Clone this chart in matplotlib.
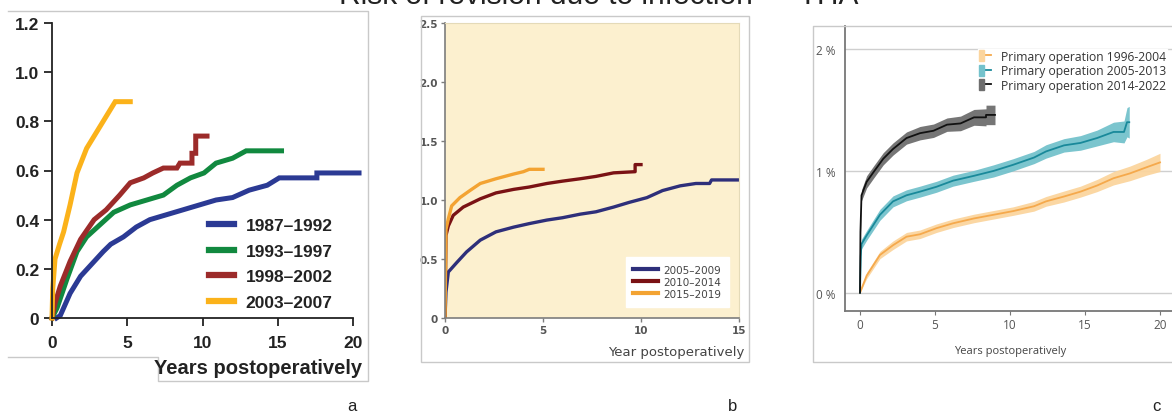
import matplotlib.pyplot as plt
from matplotlib.lines import Line2D
from matplotlib.patches import Patch, Rectangle
from matplotlib.legend_handler import HandlerTuple

W, H = 1172, 414

# ---- panel a: 1987-2007 cohorts ----
a_labels = ["1987\u20131992", "1993\u20131997", "1998\u20132002", "2003\u20132007"]
a_t_8792 = [0.3, 0.55, 1.2, 1.9, 2.8, 3.4, 3.9, 4.75, 5.6, 6.5, 7.6, 8.7, 9.8, 10.9, 12.0, 13.1, 14.3, 15.1, 17.6, 17.6, 20.4]
a_v_8792 = [0, 0.01, 0.10, 0.17, 0.23, 0.27, 0.30, 0.33, 0.37, 0.40, 0.42, 0.44, 0.46, 0.48, 0.49, 0.52, 0.54, 0.57, 0.57, 0.59, 0.59]
a_t_9397 = [0, 0.33, 1.0, 1.66, 2.3, 3.2, 4.1, 5.2, 6.3, 7.4, 8.3, 9.2, 10.1, 10.9, 12.0, 12.9, 15.25]
a_v_9397 = [0, 0.04, 0.16, 0.27, 0.33, 0.38, 0.43, 0.46, 0.48, 0.50, 0.54, 0.57, 0.59, 0.63, 0.65, 0.68, 0.68]
a_t_9802 = [0, 0.2, 0.55, 1.2, 1.9, 2.8, 3.6, 4.5, 5.2, 6.1, 6.7, 7.4, 8.3, 8.5, 9.3, 9.3, 9.55, 9.55, 10.3]
a_v_9802 = [0, 0.06, 0.13, 0.23, 0.32, 0.40, 0.44, 0.50, 0.55, 0.57, 0.59, 0.61, 0.61, 0.63, 0.63, 0.67, 0.67, 0.74, 0.74]
a_t_0307 = [0, 0.05, 0.2, 0.5, 0.77, 1.2, 1.66, 2.3, 3.0, 3.4, 3.9, 4.2, 5.2]
a_v_0307 = [0, 0.12, 0.24, 0.30, 0.35, 0.46, 0.59, 0.69, 0.76, 0.80, 0.85, 0.88, 0.88]
a_colors = ["#2b3a94", "#11893f", "#9c2b2a", "#fbb21a"]

# ---- panel b: 2005-2019 cohorts ----
b_labels = ["2005\u20132009", "2010\u20132014", "2015\u20132019"]
b_t_0509 = [0, 0.05, 0.17, 0.6, 1.1, 1.8, 2.6, 3.5, 4.3, 5.2, 6.0, 6.9, 7.7, 8.6, 9.4, 10.3, 11.1, 12.0, 12.8, 13.5, 13.6, 15.0]
b_v_0509 = [0, 0.22, 0.39, 0.47, 0.56, 0.66, 0.73, 0.77, 0.80, 0.83, 0.85, 0.88, 0.90, 0.94, 0.98, 1.02, 1.08, 1.12, 1.14, 1.14, 1.17, 1.17]
b_t_1014 = [0, 0.05, 0.17, 0.42, 0.93, 1.8, 2.6, 3.5, 4.3, 5.2, 6.0, 6.9, 7.7, 8.6, 9.7, 9.7, 10.0]
b_v_1014 = [0, 0.70, 0.78, 0.87, 0.94, 1.01, 1.06, 1.09, 1.11, 1.14, 1.16, 1.18, 1.20, 1.23, 1.24, 1.30, 1.30]
b_t_1519 = [0, 0.05, 0.17, 0.34, 0.76, 1.27, 1.8, 2.6, 3.5, 4.0, 4.3, 5.0]
b_v_1519 = [0, 0.75, 0.84, 0.95, 1.02, 1.08, 1.14, 1.18, 1.22, 1.24, 1.26, 1.26]
b_colors = ["#2e2f7a", "#7a1214", "#f3a332"]

# ---- panel c: 1996-2022 cohorts with confidence bands ----
c_labels = ["Primary operation 1996-2004", "Primary operation 2005-2013", "Primary operation 2014-2022"]
c_t_9604 = [0, 0.44, 1.33, 2.2, 3.1, 4.0, 5.1, 6.2, 7.6, 8.9, 10.2, 11.6, 12.4, 13.6, 14.7, 15.8, 16.9, 18.0, 19.1, 20.0]
c_v_9604 = [0, 0.14, 0.31, 0.39, 0.46, 0.48, 0.53, 0.57, 0.61, 0.64, 0.67, 0.71, 0.75, 0.79, 0.83, 0.88, 0.94, 0.98, 1.03, 1.07]
c_e_9604 = [0, 0.025, 0.03, 0.035, 0.035, 0.035, 0.035, 0.035, 0.035, 0.035, 0.035, 0.04, 0.04, 0.045, 0.045, 0.05, 0.055, 0.06, 0.065, 0.075]
c_t_0513 = [0, 0.05, 0.1, 0.44, 1.33, 2.2, 3.1, 4.0, 5.1, 6.2, 7.6, 8.9, 10.2, 11.6, 12.4, 13.6, 14.7, 15.8, 16.9, 17.6, 17.8, 17.95]
c_v_0513 = [0, 0.3, 0.40, 0.47, 0.64, 0.75, 0.80, 0.83, 0.87, 0.92, 0.96, 1.00, 1.05, 1.11, 1.16, 1.21, 1.23, 1.27, 1.32, 1.32, 1.40, 1.40]
c_e_0513 = [0, 0.04, 0.04, 0.04, 0.045, 0.045, 0.045, 0.045, 0.045, 0.045, 0.045, 0.05, 0.05, 0.05, 0.055, 0.055, 0.06, 0.065, 0.08, 0.09, 0.12, 0.13]
c_t_1422 = [0, 0.03, 0.1, 0.44, 0.9, 1.55, 2.2, 3.1, 4.0, 4.9, 5.8, 6.7, 7.6, 8.4, 8.4, 9.0]
c_v_1422 = [0, 0.5, 0.80, 0.91, 0.99, 1.10, 1.18, 1.27, 1.31, 1.33, 1.38, 1.39, 1.44, 1.44, 1.46, 1.46]
c_e_1422 = [0, 0.04, 0.045, 0.05, 0.05, 0.05, 0.05, 0.05, 0.055, 0.055, 0.055, 0.06, 0.065, 0.07, 0.08, 0.08]
c_line_colors = ["#f5a94c", "#19899a", "#111111"]
c_band_colors = ["#fbd59e", "#74c2cc", "#6e6e6e"]


def box(left, top, right, bottom):
    return [left / W, 1 - bottom / H, (right - left) / W, (bottom - top) / H]


def fline(fig, xs, ys, color="#c9c9c9", lw=1.0):
    fig.add_artist(Line2D([x / W for x in xs], [1 - y / H for y in ys],
                          color=color, lw=lw, transform=fig.transFigure))


fig = plt.figure(figsize=(W / 100, H / 100), dpi=100)

# title sits partly above the top edge, as in the source image
fig.text(599 / W, 1 - 4 / H, "Risk of revision due to infection \u2014 THA",
         ha="center", va="baseline", fontsize=21.5, color="#222222", family="Liberation Sans")

# ================= panel a =================
fline(fig, [8, 368, 368, 158, 158, 8], [12, 12, 382, 382, 358, 358])
ax = fig.add_axes(box(52, 24, 353, 319))
series_a = [(a_t_8792, a_v_8792), (a_t_9397, a_v_9397), (a_t_9802, a_v_9802), (a_t_0307, a_v_0307)]
for (t, v), c, lab in zip(series_a, a_colors, a_labels):
    ax.plot(t, v, color=c, lw=3.6, label=lab, clip_on=False, solid_joinstyle="miter")
ax.set_xlim(0, 20)
ax.set_ylim(0, 1.2)
ax.set_xticks([0, 5, 10, 15, 20])
ax.set_yticks([0, 0.2, 0.4, 0.6, 0.8, 1.0, 1.2])
ax.set_yticklabels(["0", "0.2", "0.4", "0.6", "0.8", "1.0", "1.2"])
for s in ["top", "right"]:
    ax.spines[s].set_visible(False)
for s in ["left", "bottom"]:
    ax.spines[s].set_linewidth(1.3)
    ax.spines[s].set_color("#222222")
ax.tick_params(direction="out", length=6, width=1.3, color="#222222", labelsize=12.5, pad=3)
ax.tick_params(axis="x", pad=6)
for lb in ax.get_xticklabels() + ax.get_yticklabels():
    lb.set_fontweight("bold")
    lb.set_family("Liberation Sans")
    lb.set_color("#222222")
ax.set_facecolor("none")
leg = ax.legend(loc="lower right", bbox_to_anchor=(0.985, -0.025), frameon=False,
                handlelength=1.4, handletextpad=0.7, labelspacing=0.6,
                prop={"family": "Liberation Sans", "weight": "bold", "size": 12.5})
for t in leg.get_texts():
    t.set_color("#222222")
for h in leg.legend_handles:
    h.set_linewidth(4.5)
fig.text(362 / W, 1 - 369 / H, "Years postoperatively", ha="right", va="center",
         fontsize=14.5, fontweight="bold", family="Liberation Sans", color="#222222")

# ================= panel b =================
fig.add_artist(Rectangle((421 / W, 1 - 363 / H), (749 - 421) / W, (363 - 17) / H,
                         transform=fig.transFigure, fill=False, ec="#c9c9c9", lw=1))
bx = fig.add_axes(box(445, 24, 739, 319))
bx.set_facecolor("#fcf0cf")
series_b = [(b_t_0509, b_v_0509), (b_t_1014, b_v_1014), (b_t_1519, b_v_1519)]
for (t, v), c, lab in zip(series_b, b_colors, b_labels):
    bx.plot(t, v, color=c, lw=2.4, label=lab)
bx.set_xlim(0, 15)
bx.set_ylim(0, 2.5)
bx.set_xticks([0, 5, 10, 15])
bx.set_yticks([0, 0.5, 1.0, 1.5, 2.0, 2.5])
bx.set_yticklabels(["0", "0.5", "1.0", "1.5", "2.0", "2.5"])
for s in ["top", "right"]:
    bx.spines[s].set_color("#e4dab8")
    bx.spines[s].set_linewidth(0.8)
for s in ["left", "bottom"]:
    bx.spines[s].set_color("#7d7d7d")
    bx.spines[s].set_linewidth(1.2)
bx.tick_params(direction="out", length=3, width=1, color="#7d7d7d", labelsize=7.5,
               labelcolor="#555555", pad=2)
for lb in bx.get_xticklabels() + bx.get_yticklabels():
    lb.set_fontweight("bold")
leg = bx.legend(loc="lower right", bbox_to_anchor=(0.985, 0.02), frameon=True, fancybox=False,
                framealpha=1, edgecolor="white", handlelength=2.4, handletextpad=0.5,
                labelspacing=0.2, borderpad=0.75, prop={"size": 7.5})
for t in leg.get_texts():
    t.set_color("#444444")
for h in leg.legend_handles:
    h.set_linewidth(3)
fig.text(744 / W, 1 - 353 / H, "Year postoperatively", ha="right", va="center",
         fontsize=9.5, color="#444444")

# ================= panel c =================
fline(fig, [1172, 813, 813, 1172], [27, 27, 363, 363])
cx = fig.add_axes(box(845, 27, 1172, 312))
series_c = [(c_t_9604, c_v_9604, c_e_9604), (c_t_0513, c_v_0513, c_e_0513), (c_t_1422, c_v_1422, c_e_1422)]
handles = []
for (t, v, e), lc, bc in zip(series_c, c_line_colors, c_band_colors):
    lo = [a - b for a, b in zip(v, e)]
    hi = [a + b for a, b in zip(v, e)]
    cx.fill_between(t, lo, hi, color=bc, lw=0, alpha=0.95)
    cx.plot(t, v, color=lc, lw=1.3)
    handles.append((Patch(color=bc), Line2D([], [], color=lc, lw=1.3)))
cx.set_xlim(-1.0, 20.8)
cx.set_ylim(-0.15, 2.19)
cx.set_xticks([0, 5, 10, 15, 20])
cx.set_yticks([0, 1, 2])
cx.set_yticklabels(["0 %", "1 %", "2 %"])
cx.grid(axis="y", color="#cfcfcf", lw=1)
cx.set_axisbelow(True)
for s in ["top", "right"]:
    cx.spines[s].set_visible(False)
for s in ["left", "bottom"]:
    cx.spines[s].set_color("#777777")
    cx.spines[s].set_linewidth(1.3)
cx.tick_params(axis="y", length=0, pad=7, labelsize=8.5, labelcolor="#555555")
cx.tick_params(axis="x", length=3, color="#777777", pad=2, labelsize=8.5, labelcolor="#555555")
for lb in cx.get_xticklabels() + cx.get_yticklabels():
    lb.set_family("Open Sans")
leg = cx.legend(handles, c_labels, handler_map={tuple: HandlerTuple(ndivide=None)},
                loc="upper right", bbox_to_anchor=(0.985, 0.92), frameon=True, fancybox=False,
                framealpha=1, edgecolor="white", handlelength=1.0, handleheight=1.0,
                handletextpad=0.8, labelspacing=0.12, borderpad=0.1, borderaxespad=0,
                prop={"family": "Open Sans", "size": 8.7})
for t in leg.get_texts():
    t.set_color("#333333")
fig.text(1010 / W, 1 - 352 / H, "Years postoperatively", ha="center", va="center",
         fontsize=8, color="#444444", family="Open Sans")

# panel letters
for x, s in [(352, "a"), (733, "b"), (1156, "c")]:
    fig.text(x / W, 1 - 407 / H, s, ha="center", va="center", fontsize=12,
             family="Liberation Sans", color="#222222")

fig.savefig("out.png", dpi=100)
